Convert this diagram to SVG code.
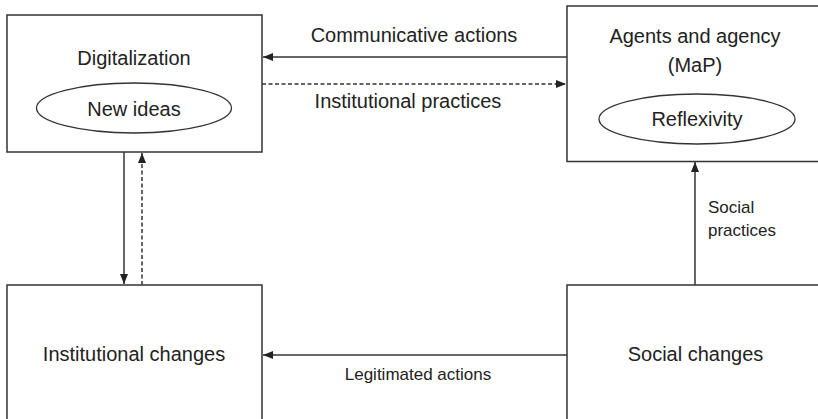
<svg xmlns="http://www.w3.org/2000/svg" width="818" height="419" viewBox="0 0 818 419">
<style>
.box{fill:#fff;stroke:#333;stroke-width:1.5}
.ell{fill:none;stroke:#333;stroke-width:1.3}
.t{font-family:"Liberation Sans",Arial,sans-serif;font-size:20px;fill:#222;text-anchor:middle}
.s{font-family:"Liberation Sans",Arial,sans-serif;font-size:17px;fill:#222}
.c{stroke:#333;stroke-width:1.5;fill:none}
.d{stroke-dasharray:4 2.5}
</style>
<defs>
<marker id="ah" viewBox="0 0 10 8" refX="10" refY="4" markerWidth="10" markerHeight="8" markerUnits="userSpaceOnUse" orient="auto">
<path d="M0,0 L10,4 L0,8 Z" fill="#222"/>
</marker>
</defs>
<rect width="818" height="419" fill="#fff"/>
<g id="digitalization">
<rect class="box" x="7" y="15" width="255" height="137"/>
<text class="t" x="134" y="65">Digitalization</text>
<ellipse class="ell" cx="134" cy="108" rx="97.5" ry="25"/>
<text class="t" x="134" y="116">New ideas</text>
</g>
<g id="agents">
<rect class="box" x="567" y="6" width="260" height="155.5"/>
<text class="t" x="695" y="43">Agents and agency</text>
<text class="t" x="695" y="72">(MaP)</text>
<ellipse class="ell" cx="697" cy="119" rx="98" ry="25"/>
<text class="t" x="697" y="126">Reflexivity</text>
</g>
<g id="institutional-changes">
<rect class="box" x="7" y="285" width="255" height="150"/>
<text class="t" x="134" y="361">Institutional changes</text>
</g>
<g id="social-changes">
<rect class="box" x="567" y="285" width="260" height="150"/>
<text class="t" x="695.5" y="361">Social changes</text>
</g>
<g id="connectors">
<line class="c" x1="567" y1="57" x2="263" y2="57" marker-end="url(#ah)"/>
<text class="t" x="414" y="42">Communicative actions</text>
<line class="c d" x1="262" y1="84" x2="566" y2="84" marker-end="url(#ah)"/>
<text class="t" x="408" y="108">Institutional practices</text>
<line class="c" x1="124" y1="152" x2="124" y2="284" marker-end="url(#ah)"/>
<line class="c d" x1="142" y1="285" x2="142" y2="153" marker-end="url(#ah)"/>
<line class="c" x1="695" y1="285" x2="695" y2="162" marker-end="url(#ah)"/>
<text class="s" x="708" y="213">Social</text>
<text class="s" x="708" y="236">practices</text>
<line class="c" x1="567" y1="355" x2="263" y2="355" marker-end="url(#ah)"/>
<text class="s" x="418" y="380" text-anchor="middle">Legitimated actions</text>
</g>
</svg>
